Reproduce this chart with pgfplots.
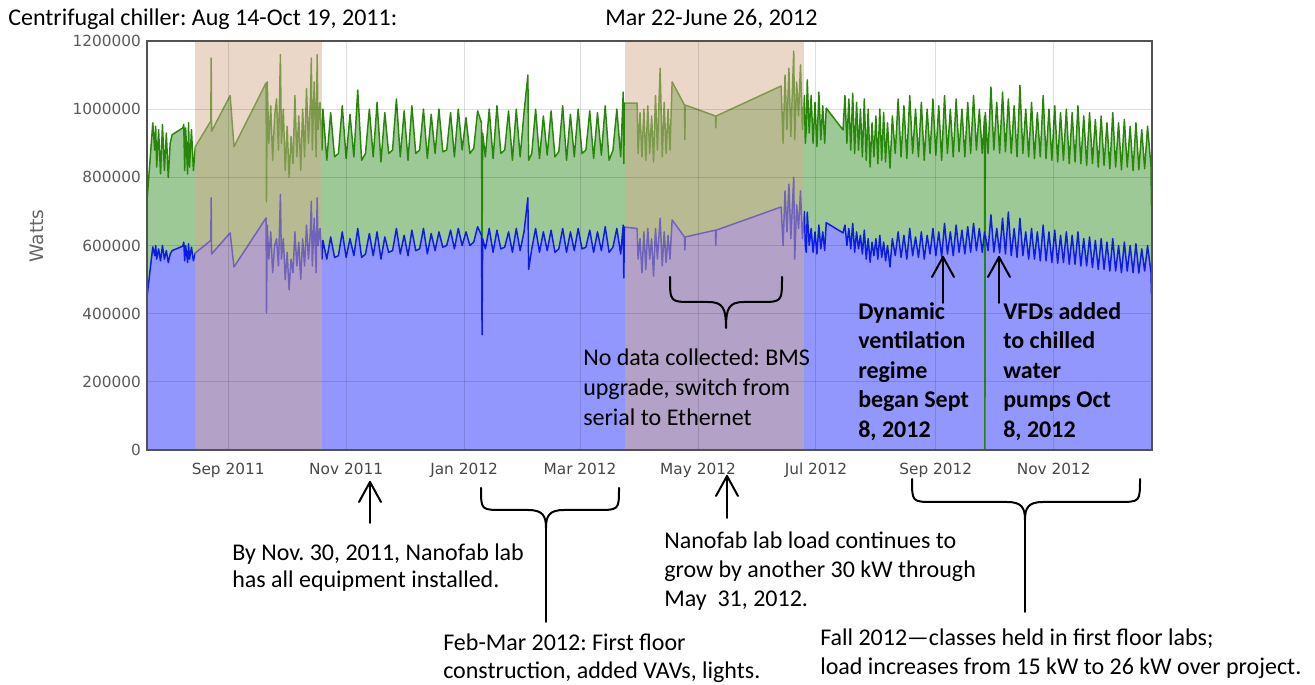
\documentclass[border=0pt]{standalone}
\usepackage{fontspec}
\setmainfont{Carlito}
\newfontfamily\tickfont{DejaVu Sans}
\usepackage{pgfplots}
\usepackage{pgfplotstable}
\pgfplotsset{compat=1.18}
\frenchspacing

\definecolor{gfill}{RGB}{156,201,149}
\definecolor{bfill}{RGB}{146,151,254}
\definecolor{gline}{RGB}{40,135,10}
\definecolor{bline}{RGB}{12,28,228}
\definecolor{nodata}{RGB}{214,173,143}

% d = days since 1 Sep 2011, g = total load (W), b = chiller load (W)
\pgfplotstableread{
d g b
-42 730e3 449e3
-39 960e3 596e3
-38 880e3 570e3
-37.5 950e3 600e3
-37 830e3 560e3
-36 940e3 590e3
-35 810e3 555e3
-34 955e3 600e3
-33 820e3 560e3
-32 930e3 585e3
-31 800e3 550e3
-30 900e3 575e3
-29 925e3 585e3
-23.5 945e3 598e3
-23 955e3 610e3
-22.5 820e3 555e3
-22 945e3 600e3
-21 810e3 550e3
-20.5 960e3 605e3
-20 830e3 560e3
-19 940e3 595e3
-18 820e3 555e3
-17 890e3 578e3
-9 965e3 615e3
-8.8 1150e3 740e3
-8.6 935e3 575e3
1 1040e3 637e3
3 890e3 537e3
19.6 1077e3 681e3
19.8 728e3 402e3
20.2 1080e3 660e3
21 900e3 560e3
22 1010e3 640e3
23 850e3 520e3
24 980e3 600e3
25 1030e3 620e3
26 880e3 540e3
27 1160e3 750e3
27.5 900e3 560e3
28.5 1000e3 620e3
29.5 820e3 500e3
30.5 950e3 580e3
31.5 800e3 470e3
32.5 920e3 560e3
33.5 840e3 520e3
34.5 1040e3 640e3
35.5 860e3 540e3
36.5 980e3 610e3
37.5 820e3 500e3
38.5 1000e3 620e3
39.5 860e3 540e3
40.5 1060e3 660e3
41.5 900e3 560e3
42.5 1020e3 640e3
43 1150e3 730e3
43.5 880e3 540e3
44.5 1080e3 680e3
45.5 860e3 520e3
46 1160e3 740e3
46.5 940e3 600e3
47.5 1020e3 650e3
48.5 880e3 560e3
49 1000e3 615e3
51 850e3 560e3
53 990e3 625e3
55 860e3 565e3
57 870e3 570e3
59 1010e3 640e3
61 855e3 565e3
63 985e3 620e3
65 860e3 570e3
67 1056e3 650e3
69 850e3 565e3
71 870e3 575e3
73 1000e3 635e3
75 860e3 570e3
77 1020e3 640e3
79 845e3 560e3
81 990e3 625e3
83 870e3 580e3
85 880e3 585e3
87 1030e3 650e3
89 860e3 575e3
91 995e3 630e3
93 850e3 570e3
95 1010e3 645e3
97 870e3 585e3
99 880e3 590e3
101 1000e3 650e3
103 855e3 575e3
105 985e3 635e3
107 870e3 585e3
109 1000e3 640e3
111 875e3 595e3
113 880e3 600e3
115 990e3 645e3
117 860e3 590e3
119 1000e3 650e3
121 880e3 600e3
123 975e3 640e3
125 870e3 600e3
127 885e3 610e3
129 995e3 655e3
131 960e3 630e3
131.3 578e3 338e3
131.6 930e3 620e3
133 860e3 590e3
135 1000e3 650e3
137 855e3 580e3
139 1010e3 645e3
141 870e3 590e3
143 880e3 595e3
145 995e3 640e3
147 850e3 580e3
149 1000e3 650e3
151 860e3 585e3
153 990e3 640e3
155 1100e3 740e3
155.4 850e3 530e3
157 870e3 590e3
159 1000e3 650e3
161 855e3 580e3
163 980e3 640e3
165 865e3 585e3
167 995e3 645e3
169 860e3 580e3
171 875e3 590e3
173 1010e3 650e3
175 850e3 580e3
177 985e3 640e3
179 860e3 585e3
181 1000e3 650e3
183 870e3 590e3
185 880e3 595e3
187 995e3 645e3
189 855e3 580e3
191 990e3 640e3
193 865e3 585e3
195 1010e3 655e3
197 850e3 580e3
199 880e3 595e3
201 1000e3 650e3
203 860e3 575e3
204.3 1050e3 660e3
204.6 840e3 505e3
205 1018e3 654e3
211.5 1018e3 650e3
212 870e3 560e3
213 990e3 620e3
214 860e3 520e3
215 1000e3 640e3
216 850e3 530e3
217 1010e3 650e3
218 870e3 560e3
219 980e3 620e3
220 845e3 510e3
221 1040e3 650e3
222 880e3 560e3
223.4 1120e3 680e3
224.5 860e3 540e3
225.5 1020e3 640e3
226.5 870e3 550e3
227.5 1000e3 630e3
228.5 880e3 560e3
229.6 1080e3 675e3
236 1012e3 625e3
236.2 910e3 587e3
236.4 1012e3 625e3
252 980e3 645e3
252.2 945e3 601e3
252.4 980e3 645e3
286 1068e3 713e3
287 900e3 600e3
288 1100e3 760e3
289 940e3 640e3
290 1120e3 780e3
291 920e3 620e3
292.5 1170e3 800e3
293 910e3 560e3
294 1080e3 720e3
295 980e3 650e3
296 1130e3 760e3
297 940e3 620e3
298 1040e3 700e3
298.5 900e3 600e3
299 940e3 580e3
299.5 1086e3 698e3
300.5 930e3 600e3
301.5 1040e3 650e3
302.5 900e3 580e3
303.5 1020e3 640e3
304.5 890e3 575e3
305.5 1050e3 660e3
306.5 910e3 590e3
307.5 1010e3 640e3
308.5 900e3 585e3
309.3 1003e3 667e3
318 939e3 637e3
319 1040e3 660e3
320 900e3 600e3
321 1030e3 650e3
322 880e3 590e3
323 1047e3 665e3
324 870e3 580e3
325 1020e3 640e3
326 880e3 590e3
327 1000e3 630e3
328 860e3 575e3
329 1030e3 645e3
330 850e3 560e3
331 1000e3 620e3
332 830e3 551e3
333 960e3 610e3
334 860e3 570e3
335 980e3 620e3
336 840e3 560e3
337 1000e3 630e3
338 850e3 565e3
339 990e3 610e3
340 845e3 555e3
341 960e3 600e3
342.3 827e3 537e3
343.5 980e3 620e3
345 870e3 570e3
346.5 1030e3 640e3
348 860e3 565e3
349.5 1010e3 630e3
351 855e3 560e3
352.5 1040e3 650e3
354 870e3 570e3
355.5 1000e3 625e3
357 860e3 565e3
358.5 1020e3 640e3
360 850e3 560e3
361.5 1000e3 630e3
363 870e3 575e3
364.5 1030e3 650e3
366 865e3 570e3
367.5 1010e3 640e3
369 850e3 566e3
370.5 1040e3 665e3
372 870e3 575e3
373.5 1000e3 640e3
375 860e3 570e3
376.5 1030e3 660e3
378 875e3 580e3
379.5 1000e3 645e3
381 860e3 575e3
382.5 1020e3 655e3
384 870e3 580e3
385.5 1040e3 665e3
387 880e3 585e3
388.5 1000e3 650e3
390 870e3 580e3
391.2 980e3 640e3
391.4 0 620e3
391.6 990e3 630e3
393 870e3 585e3
394.5 1065e3 690e3
396 880e3 580e3
397.5 1020e3 650e3
399 871e3 578e3
400.5 1050e3 680e3
402 875e3 575e3
403.5 1030e3 698e3
405 870e3 570e3
406.5 1010e3 650e3
408 860e3 565e3
409.5 1070e3 680e3
411 870e3 570e3
412.5 1000e3 640e3
414 860e3 560e3
415.5 1020e3 650e3
417 855e3 560e3
418.5 990e3 640e3
420 860e3 555e3
421.5 1040e3 660e3
423 855e3 555e3
424.5 1000e3 640e3
426 850e3 550e3
427.5 1010e3 645e3
429 845e3 548e3
430.5 990e3 630e3
432 850e3 550e3
433.5 1000e3 640e3
435 840e3 545e3
436.5 990e3 630e3
438 845e3 545e3
439.5 1010e3 640e3
441 840e3 540e3
442.5 980e3 620e3
444 835e3 540e3
445.5 990e3 625e3
447 840e3 535e3
448.5 970e3 615e3
450 830e3 530e3
451.5 980e3 620e3
453 835e3 530e3
454.5 960e3 610e3
456 825e3 525e3
457.5 990e3 620e3
459 830e3 525e3
460.5 960e3 600e3
462 822e3 520e3
463.5 970e3 610e3
465 830e3 525e3
466.5 950e3 600e3
468 820e3 520e3
469.5 960e3 605e3
471 822e3 519e3
472.5 940e3 590e3
474 825e3 525e3
475.5 950e3 600e3
477.3 830e3 520e3
477.5 720e3 460e3
477.8 840e3 540e3
}\chiller

\begin{document}
\begin{tikzpicture}
\begin{axis}[
  at={(110.25pt,176.25pt)}, anchor=south west,
  scale only axis, width=753.75pt, height=306.75pt,
  xmin=-42, xmax=477.8, ymin=0, ymax=1200000,
  axis on top,
  xtick={0,61,122,182,243,304,366,427},
  xticklabels={Sep 2011,Nov 2011,Jan 2012,Mar 2012,May 2012,Jul 2012,Sep 2012,Nov 2012},
  ytick={0,200000,400000,600000,800000,1000000,1200000},
  yticklabels={0,200000,400000,600000,800000,1000000,1200000},
  scaled y ticks=false,
  major tick length=0pt,
  grid=major, grid style={black, opacity=0.13, line width=0.75pt},
  axis line style={draw=black!68, line width=1.6pt},
  tick label style={font=\tickfont\fontsize{11.5}{13}\selectfont},
  yticklabel style={text=black!65, xshift=-1pt},
  xticklabel style={text=black!72, yshift=-6pt},
]
\addplot[draw=none, fill=gfill] table[x=d, y=g] {\chiller} \closedcycle;
\addplot[draw=none, fill=bfill] table[x=d, y=b] {\chiller} \closedcycle;
\addplot[gline, line width=1.1pt, line join=round] table[x=d, y=g] {\chiller};
\addplot[bline, line width=1.1pt, line join=round] table[x=d, y=b] {\chiller};
\fill[nodata, opacity=0.49] (axis cs:-17,0) rectangle (axis cs:48.6,1200000);
\fill[nodata, opacity=0.49] (axis cs:205.3,0) rectangle (axis cs:297.8,1200000);
\end{axis}

\begin{scope}[shift={(0,513.75pt)}, x=0.75pt, y=-0.75pt]
  \tikzset{ann/.style={anchor=base west, inner sep=0, font=\fontsize{18}{22}\selectfont},
           bann/.style={ann, font=\fontsize{18}{22}\selectfont\bfseries},
           arr/.style={line width=1.5pt, line cap=round, line join=round}}
  \newcommand{\uparr}[3]{\draw[arr] (#1,#3) -- (#1,#2); \draw[arr] (#1-11,#2+20) -- (#1,#2) -- (#1+11,#2+20);}
  \newcommand{\curlybrace}[6]{% xl, xr, xc, ytop, ymid, ytip
    \draw[arr] (#1,#4) .. controls (#1,#5) and (#1,#5) .. (#1+22,#5) -- (#3-18,#5)
      .. controls (#3-3,#5) and (#3,#5+6) .. (#3,#6)
      .. controls (#3,#5+6) and (#3+3,#5) .. (#3+18,#5) -- (#2-22,#5)
      .. controls (#2,#5) and (#2,#5) .. (#2,#4);}
  % titles
  \node[ann] at (8,26) {Centrifugal chiller: Aug 14-Oct 19, 2011:};
  \node[ann] at (605,26) {Mar 22-June 26, 2012};
  \node[rotate=90, font=\tickfont\fontsize{14}{16}\selectfont, text=black!60] at (37,236) {Watts};
  % inside the plot
  \curlybrace{670}{782}{726}{277}{302}{328}
  \node[ann] at (583,366) {No data collected: BMS};
  \node[ann] at (583,396) {upgrade, switch from};
  \node[ann] at (583,426) {serial to Ethernet};
  \uparr{943}{257}{303}
  \uparr{999}{257}{303}
  \node[bann] at (858,320) {Dynamic};
  \node[bann] at (858,349) {ventilation};
  \node[bann] at (858,379) {regime};
  \node[bann] at (858,408) {began Sept};
  \node[bann] at (858,438) {8, 2012};
  \node[bann] at (1003,320) {VFDs added};
  \node[bann] at (1003,349) {to chilled};
  \node[bann] at (1003,379) {water};
  \node[bann] at (1003,408) {pumps Oct};
  \node[bann] at (1003,438) {8, 2012};
  % below the plot
  \uparr{370}{482}{523}
  \uparr{727}{476}{518}
  \curlybrace{481}{619}{546}{488}{510}{528}
  \draw[arr] (546,528) -- (546,622);
  \curlybrace{912}{1140}{1025}{479}{502}{520}
  \draw[arr] (1025,520) -- (1025,612);
  \node[ann] at (232,561) {By Nov. 30, 2011, Nanofab lab};
  \node[ann] at (232,588) {has all equipment installed.};
  \node[ann] at (664,549) {Nanofab lab load continues to};
  \node[ann] at (664,578) {grow by another 30 kW through};
  \node[ann] at (664,607) {May\ \ 31, 2012.};
  \node[ann] at (443,651) {Feb-Mar 2012: First floor};
  \node[ann] at (443,679) {construction, added VAVs, lights.};
  \node[ann] at (820,646) {Fall 2012—classes held in first floor labs;};
  \node[ann] at (820,675) {load increases from 15 kW to 26 kW over project.};
\end{scope}
\pgfresetboundingbox
\path[use as bounding box] (0,0) rectangle (986.25pt,513.75pt);
\end{tikzpicture}
\end{document}
